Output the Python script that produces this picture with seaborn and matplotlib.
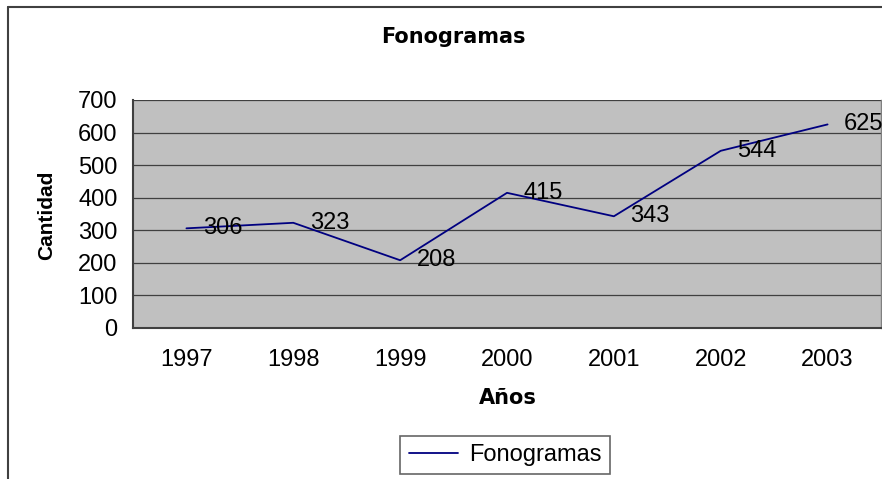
import numpy as np
import pandas as pd
import matplotlib
matplotlib.use("Agg")
import matplotlib.pyplot as plt
import seaborn as sns
from matplotlib.lines import Line2D

# datos del grafico
years = ["1997", "1998", "1999", "2000", "2001", "2002", "2003"]
fonogramas = [306, 323, 208, 415, 343, 544, 625]
y_ticks = [0, 100, 200, 300, 400, 500, 600, 700]

sns.set_style("white")
plt.rcParams["font.family"] = ["Liberation Sans", "DejaVu Sans"]
plt.rcParams["text.color"] = "black"
plt.rcParams["xtick.labelcolor"] = "black"
plt.rcParams["ytick.labelcolor"] = "black"

df = pd.DataFrame({"pos": np.arange(len(years)), "valor": fonogramas})

fig = plt.figure(figsize=(8.82, 4.79), dpi=100)
ax = fig.add_axes([133 / 882, 1 - 328 / 479, 748 / 882, 228 / 479])
ax.set_facecolor("#c0c0c0")

sns.lineplot(data=df, x="pos", y="valor", ax=ax, color="#000080", linewidth=1.3)

# etiquetas de datos a la derecha del punto
for i, v in enumerate(fonogramas):
    ax.annotate(str(v), (i, v), xytext=(12, 0), textcoords="offset points",
                ha="left", va="center", fontsize=17, color="black",
                annotation_clip=False)

ax.set_xlim(-0.5, len(years) - 0.5)
ax.set_ylim(0, 700)
ax.set_yticks(y_ticks)
ax.set_yticklabels([str(t) for t in y_ticks], fontsize=17)
ax.set_xticks(np.arange(len(years)))
ax.set_xticklabels(years, fontsize=17)
ax.set_xticks(np.arange(-0.5, len(years)), minor=True)
ax.tick_params(axis="x", which="major", length=0, pad=15, labelcolor="black")
ax.tick_params(axis="x", which="minor", length=6, width=1, color="#404040", direction="out")
ax.tick_params(axis="y", length=6, width=1, color="#404040", direction="out", pad=5,
               labelcolor="black")
ax.yaxis.grid(True, color="#404040", linewidth=0.9)
ax.set_axisbelow(True)
ax.set_xlabel("")
ax.set_ylabel("")

for side in ["left", "bottom"]:
    ax.spines[side].set_color("#404040")
    ax.spines[side].set_linewidth(1.5)
ax.spines["right"].set_color("#808080")
ax.spines["right"].set_linewidth(1)
ax.spines["top"].set_visible(False)

fig.text(453 / 882, 1 - 37 / 479, "Fonogramas", ha="center", va="center",
         fontsize=15, fontweight="bold", family="DejaVu Sans", color="black")
fig.text(508 / 882, 1 - 398 / 479, "Años", ha="center", va="center",
         fontsize=15, fontweight="bold", family="DejaVu Sans", color="black")
fig.text(47 / 882, 1 - 215 / 479, "Cantidad", ha="center", va="center",
         fontsize=15, fontweight="bold", rotation=90, color="black")

# leyenda abajo
handle = Line2D([], [], color="#000080", linewidth=1.3)
leg = fig.legend([handle], ["Fonogramas"], loc="center",
                 bbox_to_anchor=(505 / 882, 1 - 455 / 479), fontsize=17,
                 frameon=True, fancybox=False, handlelength=2.1,
                 handletextpad=0.45, borderpad=0.35, borderaxespad=0)
leg.get_frame().set_edgecolor("#404040")
leg.get_frame().set_linewidth(1.2)

# borde del area del grafico
fig.add_artist(Line2D([8 / 882, 8 / 882], [0, 1 - 7 / 479], color="#404040",
                      linewidth=1.5, transform=fig.transFigure))
fig.add_artist(Line2D([8 / 882, 1], [1 - 7 / 479, 1 - 7 / 479], color="#404040",
                      linewidth=1.5, transform=fig.transFigure))

fig.savefig("out.png", dpi=100, facecolor="white")
